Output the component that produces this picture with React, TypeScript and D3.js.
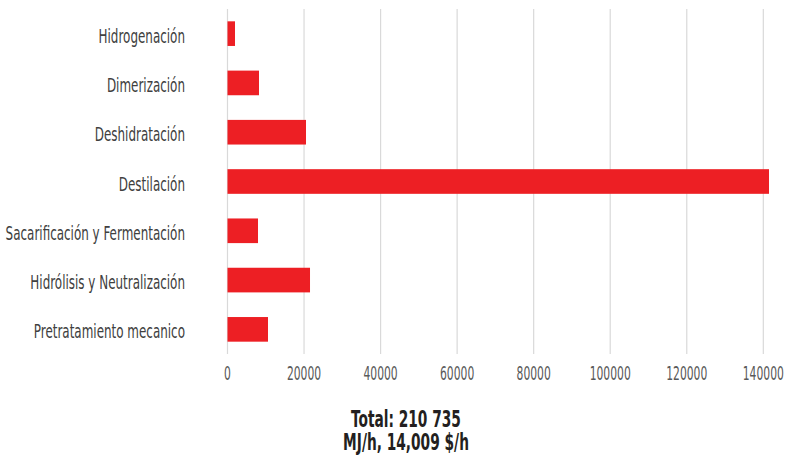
import React from "react";
import * as d3 from "d3";

const categories = [
  "Hidrogenación",
  "Dimerización",
  "Deshidratación",
  "Destilación",
  "Sacarificación y Fermentación",
  "Hidrólisis y Neutralización",
  "Pretratamiento mecanico",
];
const values = [1960, 8230, 20510, 141490, 7970, 21560, 10580];
const xTicks = [0, 20000, 40000, 60000, 80000, 100000, 120000, 140000];
const titleLines = ["Total: 210 735", "MJ/h, 14,009 $/h"];

const W = 789;
const H = 456;
const FONT = "'DejaVu Sans Condensed', 'DejaVu Sans', sans-serif";

export default function App() {
  const x = d3.scaleLinear().domain([0, 140000]).range([227.5, 763.3]);
  const y = d3
    .scaleBand<string>()
    .domain(categories)
    .range([9, 354])
    .paddingInner(0.5)
    .paddingOuter(0.25);

  return (
    <svg
      width={W}
      height={H}
      style={{ position: "absolute", left: 0, top: 0, background: "#fff" }}
      fontFamily={FONT}
    >
      {xTicks.map((t) => (
        <line
          key={"g" + t}
          x1={x(t)}
          x2={x(t)}
          y1={9}
          y2={354}
          stroke="#d9d9d9"
          strokeWidth={1.2}
        />
      ))}
      {categories.map((c, i) => (
        <rect
          key={"b" + c}
          x={x(0)}
          y={y(c)!}
          width={x(values[i]) - x(0)}
          height={y.bandwidth()}
          fill="#ED1F24"
        />
      ))}
      {categories.map((c) => (
        <text
          key={"l" + c}
          transform={`translate(185,${y(c)! + y.bandwidth() / 2 + 9}) scale(0.7,1)`}
          textAnchor="end"
          fontSize={19}
          fill="#404040"
        >
          {c}
        </text>
      ))}
      {xTicks.map((t) => (
        <text
          key={"t" + t}
          transform={`translate(${x(t)},380) scale(0.63,1)`}
          textAnchor="middle"
          fontSize={19}
          fill="#595959"
        >
          {t}
        </text>
      ))}
      {titleLines.map((s, i) => (
        <text
          key={"h" + i}
          transform={`translate(406,${427 + i * 23}) scale(0.68,1)`}
          textAnchor="middle"
          fontSize={22.5}
          fontWeight="bold"
          fill="#231f20"
        >
          {s}
        </text>
      ))}
    </svg>
  );
}
